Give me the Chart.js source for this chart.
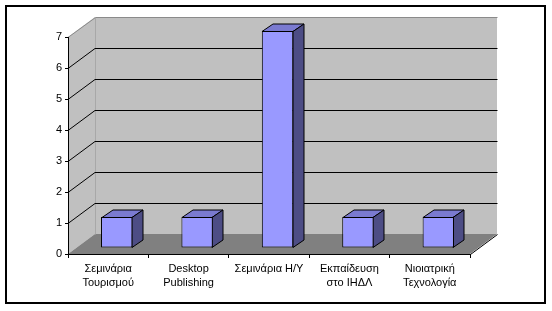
<!DOCTYPE html>
<html>
<head>
<meta charset="utf-8">
<script src="https://cdn.jsdelivr.net/npm/chart.js@4/dist/chart.umd.min.js"></script>
<style>
html,body{margin:0;padding:0;background:#fff;}
#wrap{width:552px;height:311px;position:relative;}
</style>
</head>
<body>
<div id="wrap"><canvas id="c" width="552" height="311"></canvas></div>
<script>
const categories = [
  ["Σεμινάρια", "Τουρισμού"],
  ["Desktop", "Publishing"],
  ["Σεμινάρια Η/Υ"],
  ["Εκπαίδευση", "στο ΙΗΔΛ"],
  ["Νιοιατρική", "Τεχνολογία"]
];
const values = [1, 1, 7, 1, 1];
const yTicks = [0, 1, 2, 3, 4, 5, 6, 7];

const WALL_DX = 27, WALL_DY = -20;   // depth of the 3D box
const BAR_DX = 8.5, BAR_DY = -6;     // bar row position in depth
const BAR_DEPTH_X = 11, BAR_DEPTH_Y = -7.5;

const threeD = {
  id: 'threeD',
  beforeDraw(chart) {
    const ctx = chart.ctx;
    const ys = chart.scales.y;
    const a = chart.chartArea;
    const xL = a.left, xR = a.right;
    const y0 = ys.getPixelForValue(yTicks[0]);
    const yT = ys.getPixelForValue(yTicks[yTicks.length - 1]);
    ctx.save();
    ctx.fillStyle = '#fff';
    ctx.fillRect(0, 0, chart.width, chart.height);
    // outer frame
    ctx.strokeStyle = '#000';
    ctx.lineWidth = 2;
    ctx.strokeRect(6, 6, 539, 297);
    // side wall
    ctx.fillStyle = '#c0c0c0';
    ctx.beginPath();
    ctx.moveTo(xL, yT); ctx.lineTo(xL + WALL_DX, yT + WALL_DY);
    ctx.lineTo(xL + WALL_DX, y0 + WALL_DY); ctx.lineTo(xL, y0);
    ctx.closePath(); ctx.fill();
    // back wall
    ctx.fillRect(xL + WALL_DX, yT + WALL_DY, xR - xL, y0 - yT);
    // floor
    ctx.fillStyle = '#808080';
    ctx.beginPath();
    ctx.moveTo(xL, y0); ctx.lineTo(xR, y0);
    ctx.lineTo(xR + WALL_DX, y0 + WALL_DY); ctx.lineTo(xL + WALL_DX, y0 + WALL_DY);
    ctx.closePath(); ctx.fill();
    // wall edges
    ctx.lineWidth = 1;
    ctx.strokeStyle = '#8a8a8a';
    ctx.beginPath();
    ctx.moveTo(xL, Math.round(yT) + 0.5);
    ctx.lineTo(xL + WALL_DX + 0.5, Math.round(yT + WALL_DY) + 0.5);
    ctx.lineTo(xR + WALL_DX + 0.5, Math.round(yT + WALL_DY) + 0.5);
    ctx.stroke();
    ctx.strokeStyle = '#a8a8a8';
    ctx.beginPath();
    ctx.moveTo(xL + WALL_DX + 0.5, Math.round(yT + WALL_DY) + 0.5);
    ctx.lineTo(xL + WALL_DX + 0.5, Math.round(y0 + WALL_DY) + 0.5);
    ctx.stroke();
    // gridlines
    ctx.strokeStyle = '#000';
    ys.ticks.forEach(t => {
      if (t.value <= yTicks[0] || t.value >= yTicks[yTicks.length - 1]) return;
      const y = Math.round(ys.getPixelForValue(t.value)) + 0.5;
      ctx.beginPath();
      ctx.moveTo(xL, y);
      ctx.lineTo(xL + WALL_DX, y + WALL_DY);
      ctx.lineTo(xR + WALL_DX + 0.5, y + WALL_DY);
      ctx.stroke();
    });
    // floor right front edge
    ctx.beginPath();
    ctx.moveTo(xR + 0.5, Math.round(y0) + 0.5);
    ctx.lineTo(xR + WALL_DX + 0.5, Math.round(y0 + WALL_DY) + 0.5);
    ctx.stroke();
    ctx.restore();
  },
  beforeDatasetsDraw(chart) {
    const ctx = chart.ctx;
    ctx.save();
    ctx.translate(BAR_DX, BAR_DY);
    const meta = chart.getDatasetMeta(0);
    meta.data.forEach(bar => {
      const p = bar.getProps(['x', 'y', 'base', 'width'], true);
      const l = Math.round(p.x - p.width / 2) + 0.5, r = Math.round(p.x + p.width / 2) - 0.5;
      const t = Math.round(p.y) + 0.5, b = Math.round(p.base) - 0.5;
      ctx.lineWidth = 1;
      ctx.strokeStyle = '#000';
      // top face
      ctx.fillStyle = '#7a7ad0';
      ctx.beginPath();
      ctx.moveTo(l, t); ctx.lineTo(r, t);
      ctx.lineTo(r + BAR_DEPTH_X, t + BAR_DEPTH_Y); ctx.lineTo(l + BAR_DEPTH_X, t + BAR_DEPTH_Y);
      ctx.closePath(); ctx.fill(); ctx.stroke();
      // side face
      ctx.fillStyle = '#4d4d85';
      ctx.beginPath();
      ctx.moveTo(r, t); ctx.lineTo(r + BAR_DEPTH_X, t + BAR_DEPTH_Y);
      ctx.lineTo(r + BAR_DEPTH_X, b + BAR_DEPTH_Y); ctx.lineTo(r, b);
      ctx.closePath(); ctx.fill(); ctx.stroke();
    });
  },
  afterDatasetsDraw(chart) {
    chart.ctx.restore();
  }
};

const FONT = { family: "'Liberation Sans', Arial, sans-serif", size: 11 };

new Chart(document.getElementById('c'), {
  type: 'bar',
  data: {
    labels: categories,
    datasets: [{
      data: values,
      backgroundColor: '#9999ff',
      borderColor: '#000',
      borderWidth: 1,
      borderSkipped: false,
      categoryPercentage: 1,
      barPercentage: 0.39,
      clip: false
    }]
  },
  options: {
    responsive: false,
    animation: false,
    events: [],
    layout: { padding: { left: 0, right: 82, top: 37, bottom: 0 } },
    plugins: { legend: { display: false }, tooltip: { enabled: false }, title: { display: false } },
    scales: {
      x: {
        afterFit(s) { s.height = 57; },
        grid: { display: true, offset: true, drawOnChartArea: false, drawTicks: true, tickLength: 4, color: '#000' },
        border: { display: true, color: '#000', width: 1 },
        ticks: { color: '#000', font: { family: FONT.family, size: 11, lineHeight: 1.36 }, padding: 3, maxRotation: 0, autoSkip: false }
      },
      y: {
        min: yTicks[0],
        max: yTicks[yTicks.length - 1],
        afterFit(s) { s.width = 68; },
        afterBuildTicks(s) { s.ticks = yTicks.map(v => ({ value: v })); },
        grid: { display: true, drawOnChartArea: false, drawTicks: true, tickLength: 3, color: '#000' },
        border: { display: true, color: '#000', width: 1 },
        ticks: { color: '#000', font: FONT, padding: 3, stepSize: 1 }
      }
    }
  },
  plugins: [threeD]
});
</script>
</body>
</html>
